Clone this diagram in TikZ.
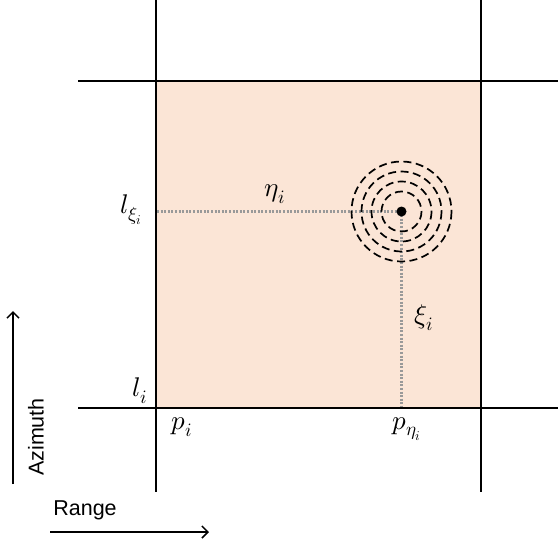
\documentclass[tikz,border=0pt]{standalone}
\usepackage{fontspec}
\usepackage{unicode-math}
\setmathfont{Latin Modern Math}
\setsansfont{Liberation Sans}
\usetikzlibrary{arrows.meta}
\definecolor{cellfill}{HTML}{FBE5D6}
\tikzset{
  gridline/.style={line width=2pt, black},
  guide/.style={line width=2.2pt, gray!80, dash pattern=on 2pt off 1.6pt},
  ring/.style={line width=1.7pt, dash pattern=on 8pt off 4.5pt},
  lab/.style={font=\fontsize{27}{30}\selectfont, inner sep=0pt},
  axislab/.style={font=\sffamily\fontsize{21.5}{25}\selectfont, inner sep=0pt},
  axisarrow/.style={line width=1.5pt, -{Straight Barb[length=6pt,width=12pt,line width=1.5pt]}}
}
\begin{document}
\begin{tikzpicture}[x=1pt,y=-1pt]
\useasboundingbox (0,0) rectangle (558,544);
\fill[cellfill] (156,81) rectangle (481,408);
% grid
\coordinate (v1t) at (156,0); \coordinate (v1b) at (156,492);
\coordinate (v2t) at (481,0); \coordinate (v2b) at (481,492);
\coordinate (h1l) at (78,81); \coordinate (h1r) at (558,81);
\coordinate (h2l) at (78,408); \coordinate (h2r) at (558,408);
\draw[gridline] (v1t) -- (v1b);
\draw[gridline] (v2t) -- (v2b);
\draw[gridline] (h1l) -- (h1r);
\draw[gridline] (h2l) -- (h2r);
% target
\coordinate (tgt) at (401.5,211.5);
\coordinate (gl) at (157,211.5);
\coordinate (gb) at (401.5,407);
\draw[guide] (gl) -- (tgt);
\draw[guide] (tgt) -- (gb);
\foreach \r in {20,30,40,50} \draw[ring] (tgt) circle[radius=\r];
\fill (tgt) circle[radius=5];
% labels
\node[lab] (eta) at (275,194) {$\eta_i$};
\node[lab] (lxi) at (131,210) {$l_{\xi_i}$};
\node[lab] (xi) at (424,318) {$\xi_i$};
\node[lab] (li) at (140,391) {$l_i$};
\node[lab] (pi) at (182,427) {$p_i$};
\node[lab] (peta) at (407,429) {$p_{\eta_i}$};
% axes
\coordinate (az0) at (13,484); \coordinate (az1) at (13,311);
\draw[axisarrow] (az0) -- (az1);
\node[axislab, rotate=90] (azl) at (36,437) {Azimuth};
\coordinate (r0) at (50,532); \coordinate (r1) at (209,532);
\draw[axisarrow] (r0) -- (r1);
\node[axislab] (rl) at (85,510) {Range};
\end{tikzpicture}
\end{document}
